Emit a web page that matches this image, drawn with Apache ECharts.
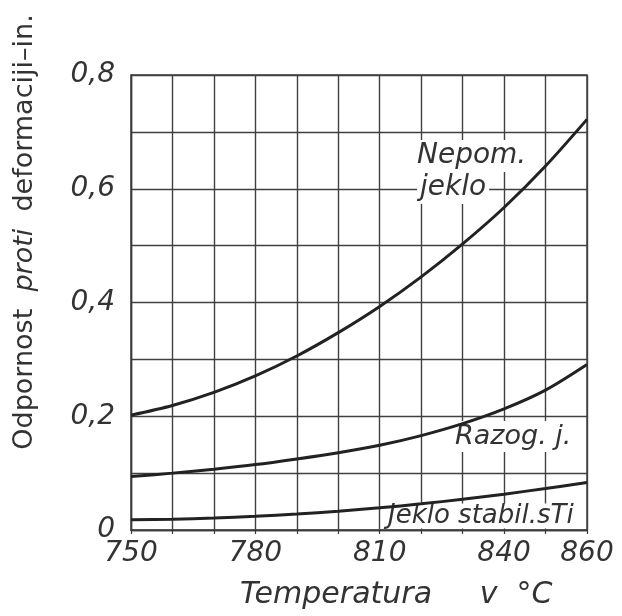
<!DOCTYPE html>
<html>
<head>
<meta charset="utf-8">
<script src="https://cdn.jsdelivr.net/npm/echarts@6/dist/echarts.min.js"></script>
<style>
html,body{margin:0;padding:0;background:#fff;}
#chart{width:622px;height:616px;}
</style>
</head>
<body>
<div id="chart"></div>
<script>
// Temperature (°C)
var temps = [750, 760, 770, 780, 790, 800, 810, 820, 830, 840, 850, 860];
// Odpornost proti deformaciji
var nepomJeklo = [0.202, 0.219, 0.242, 0.271, 0.306, 0.347, 0.393, 0.445, 0.503, 0.567, 0.640, 0.722];
var razogJ     = [0.094, 0.100, 0.107, 0.115, 0.125, 0.136, 0.149, 0.166, 0.187, 0.213, 0.246, 0.291];
var jekloTi    = [0.018, 0.019, 0.021, 0.024, 0.028, 0.033, 0.039, 0.046, 0.054, 0.063, 0.073, 0.0835];
var xTickLabels = [750, 780, 810, 840, 860];
var yTickLabels = ['0', '0,2', '0,4', '0,6', '0,8'];
var yTickValues = [0, 0.2, 0.4, 0.6, 0.8];

function pairs(ys) { return temps.map(function (t, i) { return [t, ys[i]]; }); }

var FONT = 'DejaVu Sans';
var TXT = '#333';
var chart = echarts.init(document.getElementById('chart'), null, {renderer: 'canvas'});

function curve(name, ys) {
  return {
    name: name, type: 'line', data: pairs(ys), smooth: 0.3,
    showSymbol: false, symbol: 'none',
    lineStyle: {color: '#222', width: 3}, z: 3
  };
}

chart.setOption({
  animation: false,
  backgroundColor: '#fff',
  grid: {left: 131, right: 35, top: 75, bottom: 86, show: true, borderColor: '#3a3a3a', borderWidth: 1.4, backgroundColor: 'transparent'},
  xAxis: {
    type: 'value', min: 750, max: 860, interval: 10,
    axisLine: {show: true, lineStyle: {color: '#3a3a3a', width: 1.4}},
    axisTick: {show: true, length: 4, lineStyle: {color: '#3a3a3a', width: 1.2}},
    splitLine: {show: true, lineStyle: {color: '#404040', width: 1.4}},
    axisLabel: {
      margin: 10, color: TXT, fontFamily: FONT, fontStyle: 'italic', fontSize: 28,
      showMinLabel: true, showMaxLabel: true,
      formatter: function (v) { return xTickLabels.indexOf(Math.round(v)) >= 0 ? String(Math.round(v)) : ''; }
    }
  },
  yAxis: {
    type: 'value', min: 0, max: 0.8, interval: 0.1,
    axisLine: {show: true, lineStyle: {color: '#3a3a3a', width: 1.4}},
    axisTick: {show: false},
    splitLine: {show: true, lineStyle: {color: '#404040', width: 1.4}},
    axisLabel: {
      margin: 16, color: TXT, fontFamily: FONT, fontStyle: 'italic', fontSize: 28,
      showMinLabel: true, showMaxLabel: true,
      formatter: function (v) {
        for (var i = 0; i < yTickValues.length; i++) {
          if (Math.abs(v - yTickValues[i]) < 1e-6) return yTickLabels[i];
        }
        return '';
      }
    }
  },
  series: [
    curve('Nepom. jeklo', nepomJeklo),
    curve('Razog. j.', razogJ),
    curve('Jeklo stabil. s Ti', jekloTi)
  ],
  graphic: [
    {type: 'text', z: 1, left: 414, top: 140, style: {text: 'Nepom.', font: 'italic 28px "DejaVu Sans"', fill: TXT, backgroundColor: '#fff', padding: [0, 3, 0, 3], lineHeight: 32}},
    {type: 'text', z: 1, left: 417, top: 172, style: {text: 'jeklo', font: 'italic 28px "DejaVu Sans"', fill: TXT, backgroundColor: '#fff', padding: [0, 3, 0, 3], lineHeight: 32}},
    {type: 'text', z: 1, left: 452, top: 421, style: {text: 'Razog. j.', font: 'italic 27px "DejaVu Sans"', fill: TXT, backgroundColor: '#fff', padding: [0, 3, 0, 3], lineHeight: 31}},
    {type: 'text', z: 1, left: 386, top: 503, style: {text: 'Jeklo stabil.sTi', font: 'italic 26px "DejaVu Sans"', fill: TXT, backgroundColor: '#fff', padding: [0, 2, 0, 2], lineHeight: 25}},
    {type: 'text', z: 1, left: 240, top: 580, style: {text: 'Temperatura     v  °C', font: 'italic 30px "DejaVu Sans"', fill: TXT}},
    {type: 'text', z: 1, x: 25, y: 232, rotation: Math.PI / 2,
      style: {
        x: 0, y: 0, textAlign: 'center', textVerticalAlign: 'middle', fill: TXT,
        text: '{a|Odpornost  }{b|proti}{a|  deformaciji–in.}',
        rich: {
          a: {fontFamily: FONT, fontSize: 27, fill: TXT, fontStyle: 'normal'},
          b: {fontFamily: FONT, fontSize: 27, fill: TXT, fontStyle: 'italic'}
        }
      }
    }
  ]
});
</script>
</body>
</html>
